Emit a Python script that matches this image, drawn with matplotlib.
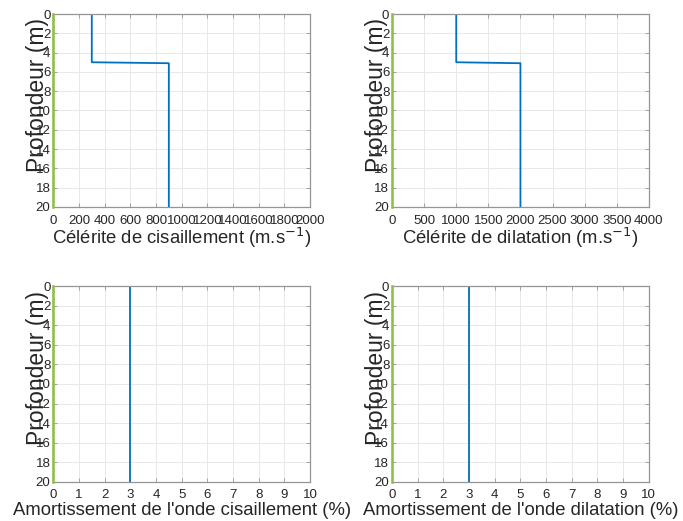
import matplotlib.pyplot as plt

plt.rcParams["font.family"] = ["Liberation Sans", "DejaVu Sans"]

# depth profile (m) and layer values
depth = [0, 5, 5.1, 20]
vs = [300, 300, 900, 900]          # shear wave velocity
vp = [1000, 1000, 2000, 2000]      # compression wave velocity
damp_depth = [0, 20]
damp_s = [3, 3]
damp_p = [3, 3]
zero_line = [0, 0]

blue = "#0072BD"
green = "#8DBF45"

panels = [
    (vs, depth, (0, 2000), list(range(0, 2001, 200)), "Célérite de cisaillement (m.s$^{-1}$)"),
    (vp, depth, (0, 4000), list(range(0, 4001, 500)), "Célérite de dilatation (m.s$^{-1}$)"),
    (damp_s, damp_depth, (0, 10), list(range(0, 11)), "Amortissement de l'onde cisaillement (%)"),
    (damp_p, damp_depth, (0, 10), list(range(0, 11)), "Amortissement de l'onde dilatation (%)"),
]

positions = [
    [0.078, 0.603, 0.376, 0.370],
    [0.574, 0.603, 0.376, 0.370],
    [0.078, 0.075, 0.376, 0.376],
    [0.574, 0.075, 0.376, 0.376],
]
# baseline of the x label, in axes units
xlabel_y = [-0.192, -0.192, -0.170, -0.170]

fig = plt.figure(figsize=(6.83, 5.21), dpi=100)

for (x, y, xlim, xticks, xlabel), pos, ly in zip(panels, positions, xlabel_y):
    ax = fig.add_axes(pos)
    ax.plot(x, y, color=blue, linewidth=1.3)
    ax.plot(zero_line, damp_depth, color=green, linewidth=1.8, zorder=3, clip_on=False)
    ax.set_xlim(*xlim)
    ax.set_ylim(20, 0)
    ax.set_xticks(xticks)
    ax.set_yticks(range(0, 21, 2))
    ax.grid(True, color="#E8E8E8", linewidth=0.7)
    ax.set_axisbelow(True)
    for s in ax.spines.values():
        s.set_color("#959595")
        s.set_linewidth(0.9)
    ax.tick_params(direction="in", length=3, width=0.6, color="#959595",
                   labelsize=9.5, labelcolor="#262626", top=True, right=True)
    ax.tick_params(axis="x", pad=6 if ly < -0.18 else 5)
    ax.tick_params(axis="y", pad=2)
    ax.set_xlabel(xlabel, fontsize=13.3, color="#262626", va="baseline")
    ax.xaxis.set_label_coords(0.5, ly)
    ax.set_ylabel("Profondeur (m)", fontsize=16.5, color="#262626")
    ax.yaxis.set_label_coords(-0.016, 0.58)

plt.savefig("out.png", dpi=100)
plt.close()
